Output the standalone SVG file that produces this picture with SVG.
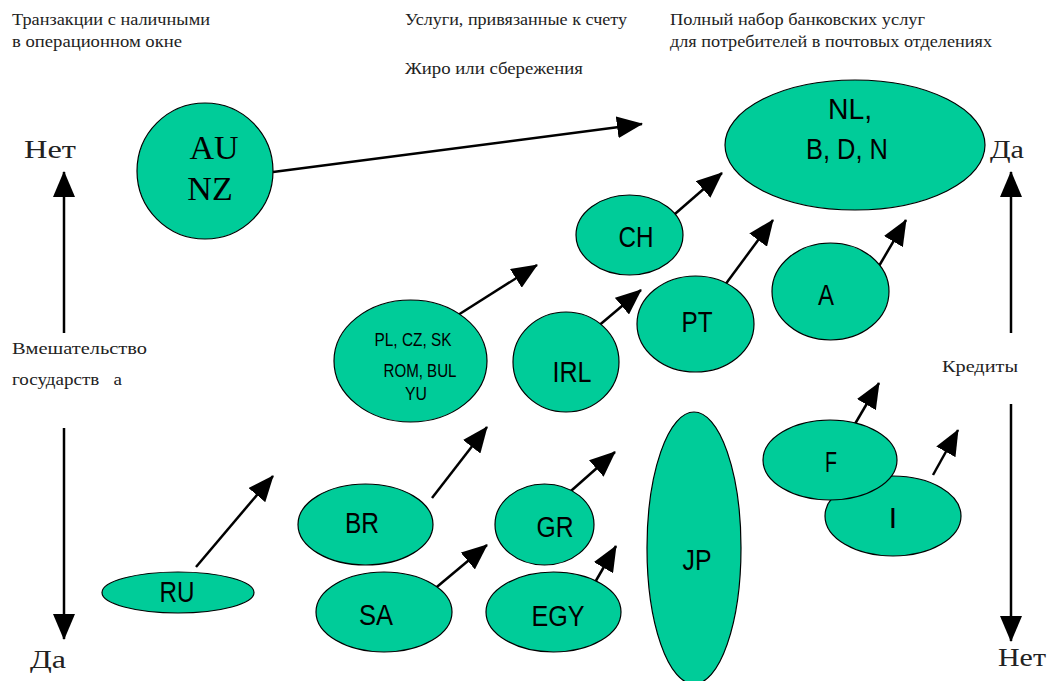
<svg xmlns="http://www.w3.org/2000/svg" width="1048" height="681" viewBox="0 0 1048 681">
<style>
.n{fill:#00CC99;stroke:#000;stroke-width:1.2}
.l{font-family:"Liberation Sans","Arial",sans-serif;fill:#000;text-anchor:middle}
.s{font-family:"Liberation Serif","DejaVu Serif",serif;fill:#222}
.c{stroke:#000;stroke-width:2.5;fill:none;marker-end:url(#ah)}
</style>
<defs>
<marker id="ah" markerUnits="userSpaceOnUse" markerWidth="26" markerHeight="22" refX="25" refY="11" orient="auto">
<path d="M0,0 L26,11 L0,22 z" fill="#000"/>
</marker>
</defs>
<rect width="1048" height="681" fill="#fff"/>
<g id="labels">
<text class="s" x="12" y="25" font-size="16" textLength="198" lengthAdjust="spacingAndGlyphs">Транзакции с наличными</text>
<text class="s" x="12" y="47" font-size="16" textLength="170" lengthAdjust="spacingAndGlyphs">в операционном окне</text>
<text class="s" x="405" y="25" font-size="16" textLength="222" lengthAdjust="spacingAndGlyphs">Услуги, привязанные к счету</text>
<text class="s" x="405" y="74" font-size="16" textLength="178" lengthAdjust="spacingAndGlyphs">Жиро или сбережения</text>
<text class="s" x="670" y="25" font-size="16" textLength="255" lengthAdjust="spacingAndGlyphs">Полный набор банковских услуг</text>
<text class="s" x="670" y="47" font-size="16" textLength="322" lengthAdjust="spacingAndGlyphs">для потребителей в почтовых отделениях</text>
<text class="s" x="12" y="354" font-size="16" textLength="135" lengthAdjust="spacingAndGlyphs">Вмешательство</text>
<text class="s" x="12" y="385" font-size="16" xml:space="preserve" textLength="110" lengthAdjust="spacingAndGlyphs">государств   а</text>
<text class="s" x="942" y="372" font-size="16" textLength="76" lengthAdjust="spacingAndGlyphs">Кредиты</text>
<text class="s" x="24" y="158" font-size="26" textLength="52" lengthAdjust="spacingAndGlyphs">Нет</text>
<text class="s" x="30" y="668" font-size="26" textLength="36" lengthAdjust="spacingAndGlyphs">Да</text>
<text class="s" x="990" y="158" font-size="26" textLength="34" lengthAdjust="spacingAndGlyphs">Да</text>
<text class="s" x="998" y="666" font-size="26" textLength="48" lengthAdjust="spacingAndGlyphs">Нет</text>
</g>
<g id="connectors">
<line class="c" x1="64" y1="333" x2="64" y2="172"/>
<line class="c" x1="64" y1="428" x2="64" y2="639"/>
<line class="c" x1="1011" y1="333" x2="1011" y2="172"/>
<line class="c" x1="1011" y1="404" x2="1011" y2="641"/>
<line class="c" x1="273" y1="172" x2="642" y2="124"/>
<line class="c" x1="668" y1="220" x2="722" y2="173"/>
<line class="c" x1="722" y1="289" x2="773" y2="220"/>
<line class="c" x1="879" y1="266" x2="906" y2="220"/>
<line class="c" x1="590" y1="333" x2="641" y2="290"/>
<line class="c" x1="458" y1="315" x2="537" y2="265"/>
<line class="c" x1="852" y1="429" x2="879" y2="383"/>
<line class="c" x1="933" y1="475" x2="958" y2="430"/>
<line class="c" x1="563" y1="498" x2="615" y2="452"/>
<line class="c" x1="590" y1="591" x2="616" y2="546"/>
<line class="c" x1="196" y1="567" x2="273" y2="476"/>
<line class="c" x1="432" y1="498" x2="487" y2="427"/>
<line class="c" x1="432" y1="591" x2="487" y2="545"/>
</g>
<g id="AUNZ"><ellipse class="n" cx="205" cy="171" rx="68" ry="68"/>
<text x="214" y="159" font-family="Liberation Serif,serif" font-size="34" text-anchor="middle">AU</text>
<text x="210" y="200" font-family="Liberation Serif,serif" font-size="34" text-anchor="middle">NZ</text></g>
<g id="NLBDN"><ellipse class="n" cx="855" cy="145" rx="130" ry="65"/>
<text class="l" x="850" y="119" font-size="30" textLength="44" lengthAdjust="spacingAndGlyphs">NL,</text>
<text class="l" x="847" y="159" font-size="30" textLength="82" lengthAdjust="spacingAndGlyphs">B, D, N</text></g>
<g id="CH"><ellipse class="n" cx="629.5" cy="235" rx="53.5" ry="40"/><text class="l" x="636" y="247" font-size="30" textLength="35" lengthAdjust="spacingAndGlyphs">CH</text></g>
<g id="PT"><ellipse class="n" cx="695.5" cy="324" rx="58.5" ry="48"/><text class="l" x="697" y="332" font-size="30" textLength="31" lengthAdjust="spacingAndGlyphs">PT</text></g>
<g id="A"><ellipse class="n" cx="830.5" cy="291.5" rx="58.5" ry="48.5"/><text class="l" x="826" y="305" font-size="30" textLength="16" lengthAdjust="spacingAndGlyphs">A</text></g>
<g id="IRL"><ellipse class="n" cx="566" cy="362" rx="53" ry="50"/><text class="l" x="572" y="382" font-size="30" textLength="39" lengthAdjust="spacingAndGlyphs">IRL</text></g>
<g id="EE"><ellipse class="n" cx="410.5" cy="361" rx="76.5" ry="61"/>
<text class="l" x="413" y="346" font-size="19" textLength="77" lengthAdjust="spacingAndGlyphs">PL, CZ, SK</text>
<text class="l" x="420" y="377" font-size="19" textLength="73" lengthAdjust="spacingAndGlyphs">ROM, BUL</text>
<text class="l" x="416" y="400" font-size="19" textLength="22" lengthAdjust="spacingAndGlyphs">YU</text></g>
<g id="JP"><ellipse class="n" cx="694" cy="548" rx="47" ry="136"/><text class="l" x="697" y="570" font-size="30" textLength="29" lengthAdjust="spacingAndGlyphs">JP</text></g>
<g id="I"><ellipse class="n" cx="893" cy="516" rx="68" ry="40"/><text class="l" x="893" y="528" font-size="30">I</text></g>
<g id="F"><ellipse class="n" cx="830" cy="460" rx="67" ry="40"/><text class="l" x="831" y="472" font-size="30" textLength="12" lengthAdjust="spacingAndGlyphs">F</text></g>
<g id="GR"><ellipse class="n" cx="544.5" cy="524.5" rx="49.5" ry="40.5"/><text class="l" x="555" y="537" font-size="30" textLength="37" lengthAdjust="spacingAndGlyphs">GR</text></g>
<g id="EGY"><ellipse class="n" cx="553.5" cy="612" rx="67.5" ry="40"/><text class="l" x="558" y="626" font-size="30" textLength="53" lengthAdjust="spacingAndGlyphs">EGY</text></g>
<g id="RU"><ellipse class="n" cx="178" cy="592.5" rx="76" ry="20.5"/><text class="l" x="177" y="602" font-size="30" textLength="35" lengthAdjust="spacingAndGlyphs">RU</text></g>
<g id="BR"><ellipse class="n" cx="365.5" cy="524.5" rx="67.5" ry="40.5"/><text class="l" x="362" y="533" font-size="30" textLength="34" lengthAdjust="spacingAndGlyphs">BR</text></g>
<g id="SA"><ellipse class="n" cx="384" cy="612" rx="68" ry="40"/><text class="l" x="376" y="625" font-size="30" textLength="34" lengthAdjust="spacingAndGlyphs">SA</text></g>
</svg>
